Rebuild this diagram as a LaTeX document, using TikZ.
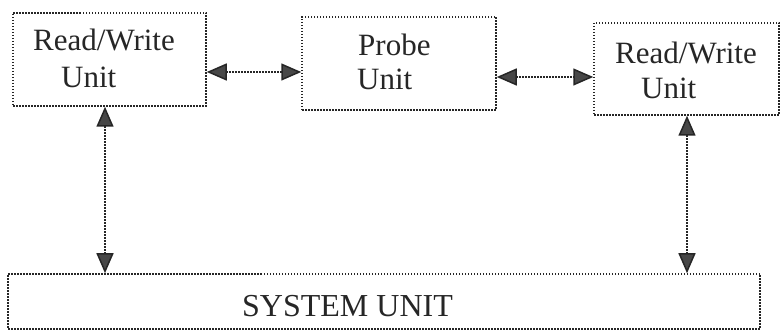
\documentclass[tikz,border=0pt]{standalone}
\usepackage{fontspec}
\setmainfont{Liberation Serif}
\usetikzlibrary{arrows.meta,calc}
\definecolor{ink}{gray}{0.15}
\tikzset{
  dotline/.style={draw=ink, line width=1.5pt, dash pattern=on 1.5pt off 1.5pt},
  unitbox/.style={dotline, rectangle, inner sep=0pt},
  lbl/.style={anchor=base west, inner sep=0pt, text=ink, font=\fontsize{31}{31}\selectfont},
  biarrow/.style={dotline, {Triangle[length=20pt,width=17pt,fill=ink!85]}-{Triangle[length=20pt,width=17pt,fill=ink!85]}},
}
\begin{document}
\begin{tikzpicture}[x=1pt,y=1pt]
\useasboundingbox (0,0) rectangle (781,336);
% boxes
\node[unitbox, minimum width=193pt, minimum height=93pt] (lb) at (109.5,276.5) {};
\node[unitbox, minimum width=194pt, minimum height=93pt] (pb) at (399,272.5) {};
\node[unitbox, minimum width=185pt, minimum height=92pt] (rb) at (686.5,267) {};
\node[unitbox, minimum width=752pt, minimum height=55pt] (sys) at (384,34.5) {};
% labels
\node[lbl] (lt1) at (33,285) {Read/Write};
\node[lbl] (lt2) at (61,248) {Unit};
\node[lbl] (pt1) at (358,280) {Probe};
\node[lbl] (pt2) at (357,246) {Unit};
\node[lbl] (rt1) at (615,272) {Read/Write};
\node[lbl] (rt2) at (641,237) {Unit};
\node[lbl, font=\fontsize{32}{32}\selectfont] (st) at (242,19) {SYSTEM UNIT};
% connector levels
\coordinate (h1) at (0,264);
\coordinate (h2) at (0,259);
\coordinate (v1) at (105,0);
\coordinate (v2) at (687,0);
% connectors
\draw[biarrow] (lb.east |- h1) -- (pb.west |- h1);
\draw[biarrow] (pb.east |- h2) -- (rb.west |- h2);
\draw[biarrow] (v1 |- lb.south) -- (v1 |- sys.north);
\draw[biarrow] (v2 |- rb.south) -- (v2 |- sys.north);
\end{tikzpicture}
\end{document}
